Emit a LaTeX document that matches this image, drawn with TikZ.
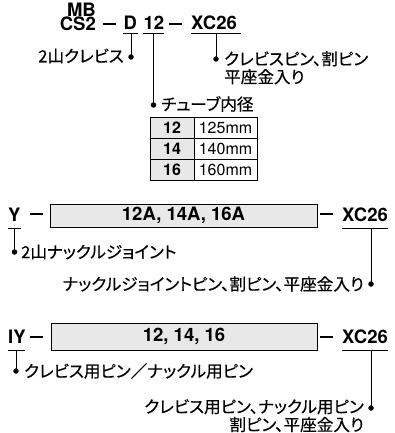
\documentclass[tikz,border=0pt]{standalone}
\usepackage{fontspec}
\setmainfont{TeX Gyre Heros}
\newfontfamily\codefont{TeX Gyre Heros}
\newfontfamily\jp[RawFeature=+palt, FakeBold=0.4]{Noto Sans CJK JP}
\begin{document}
\begin{tikzpicture}[x=1pt,y=-1pt,
  code/.style={font=\codefont\fontsize{18.5}{15}\selectfont\bfseries, inner sep=0pt},
  jlabel/.style={font=\jp\fontsize{16.6}{18}\selectfont, inner sep=0pt},
  uline/.style={line width=1pt},
  lead/.style={line width=1pt},
  hyph/.style={line width=2.8pt},
  dotmark/.style={fill=black, circle, inner sep=0pt, minimum size=5.5pt},
  codebox/.style={draw, fill=gray!18, line width=0.8pt, inner sep=0pt, font=\codefont\fontsize{18.5}{15}\selectfont\bfseries},
  tabnum/.style={font=\codefont\fontsize{16}{15}\selectfont\bfseries, inner sep=0pt},
  tabval/.style={font=\fontsize{16}{15}\selectfont, inner sep=0pt}
]
\useasboundingbox (0,0) rectangle (395,433);

% ---------- top ----------
\node[code, anchor=base east] (mb) at (96,16.5) {MB};
\node[code, anchor=base east] (cs) at (96,30.5) {CS2};
\draw[hyph] (103,24) -- (116,24);
\node[code, anchor=base west] (d) at (123.5,29.5) {D};
\node[code, anchor=base west] (n12) at (143.5,29.5) {12};
\draw[hyph] (169,24) -- (182,24);
\node[code, anchor=base west] (xc1) at (191,29.5) {XC26};

\draw[uline] (123,34) -- (138,34);
\draw[uline] (143,34) -- (164,34);
\draw[uline] (191,34) -- (241,34);
\coordinate (ud) at (131,34);
\coordinate (u12) at (153.5,34);
\coordinate (ux1) at (216,34);

\node[dotmark] (dd) at (131,57) {};
\node[dotmark] (d12) at (153.5,105) {};
\node[dotmark] (dx1) at (216,59) {};
\draw[lead] (ud) -- (dd.center);
\draw[lead] (u12) -- (d12.center);
\draw[lead] (ux1) -- (dx1.center);

\node[jlabel, anchor=east] (ld) at (124,56) {2山クレビス};
\node[jlabel, anchor=west] (l12) at (161,104) {チューブ内径};
\node[jlabel, anchor=north west, align=left] (lx1) at (224,51) {クレビスピン、割ピン\\平座金入り};

% table
\fill[gray!18] (150,117) rectangle (194,180);
\draw[line width=0.8pt] (150,117) rectangle (257,180);
\draw[line width=0.6pt] (150,138) -- (257,138) (150,159) -- (257,159) (194,117) -- (194,180);
\node[tabnum] (t12) at (172,128) {12};
\node[tabnum] (t14) at (172,149) {14};
\node[tabnum] (t16) at (172,170) {16};
\node[tabval] (v12) at (225.5,128) {125mm};
\node[tabval] (v14) at (225.5,149) {140mm};
\node[tabval] (v16) at (225.5,170) {160mm};

% ---------- middle ----------
\node[code, anchor=base west] (y) at (8,221) {Y};
\draw[hyph] (30,214) -- (43,214);
\node[codebox, minimum width=267pt, minimum height=23pt] (b1) at (183.5,215.5) {12A, 14A, 16A};
\draw[hyph] (320,214) -- (333,214);
\node[code, anchor=base west] (xc2) at (342,221) {XC26};
\draw[uline] (8,228) -- (21,228);
\draw[uline] (342,228) -- (388,228);
\coordinate (uy) at (14.5,228);
\coordinate (ux2) at (371,228);
\node[dotmark] (dy) at (14.5,252) {};
\node[dotmark] (dx2) at (371,284) {};
\draw[lead] (uy) -- (dy.center);
\draw[lead] (ux2) -- (dx2.center);
\node[jlabel, anchor=west] (ly) at (21,252) {2山ナックルジョイント};
\node[jlabel, anchor=east] (lx2) at (364,284) {ナックルジョイントピン、割ピン、平座金入り};

% ---------- bottom ----------
\node[code, anchor=base west] (iy) at (8,343.5) {IY};
\draw[hyph] (30,337) -- (43,337);
\node[codebox, minimum width=266pt, minimum height=27pt] (b2) at (184,336.5) {12, 14, 16};
\draw[hyph] (320,337) -- (333,337);
\node[code, anchor=base west] (xc3) at (342,343.5) {XC26};
\draw[uline] (8,350) -- (25,350);
\draw[uline] (342,350) -- (388,350);
\coordinate (uiy) at (16,350);
\coordinate (ux3) at (371,350);
\node[dotmark] (diy) at (16,371) {};
\node[dotmark] (dx3) at (371,408) {};
\draw[lead] (uiy) -- (diy.center);
\draw[lead] (ux3) -- (dx3.center);
\node[jlabel, anchor=west] (liy) at (24,371) {クレビス用ピン／ナックル用ピン};
\node[jlabel, anchor=north east, align=right] (lx3) at (364,399) {クレビス用ピン、ナックル用ピン\\割ピン、平座金入り};
\end{tikzpicture}
\end{document}
